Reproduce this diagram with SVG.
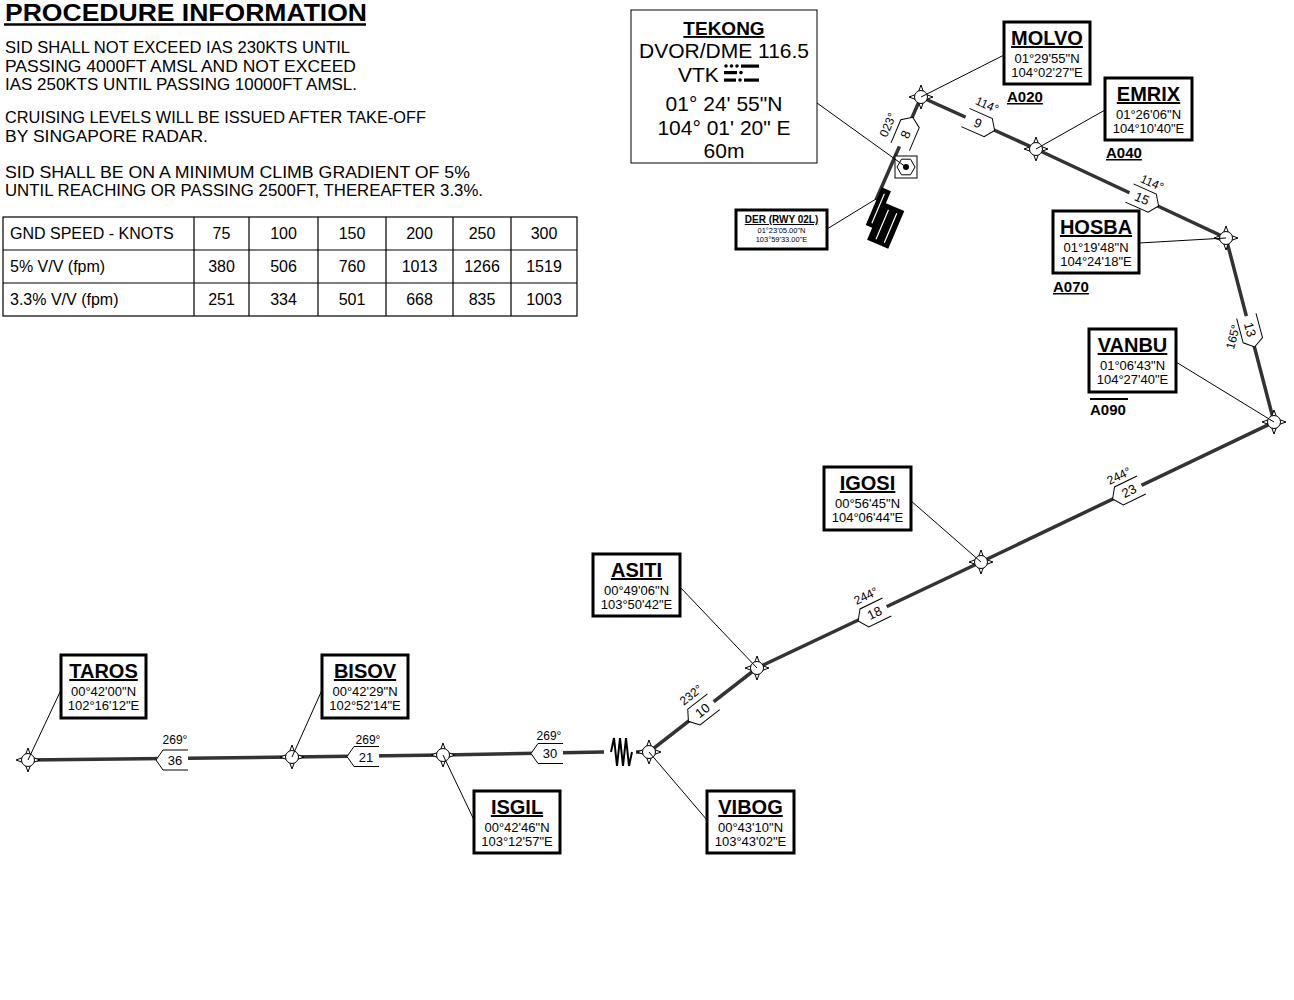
<svg xmlns="http://www.w3.org/2000/svg" xmlns:xlink="http://www.w3.org/1999/xlink" width="1294" height="1000" viewBox="0 0 1294 1000">
<style>
text{font-family:"Liberation Sans",Arial,sans-serif;fill:#000}
.rt{fill:none;stroke:#333;stroke-width:3.5}
.ld{fill:none;stroke:#000;stroke-width:1}
.bx{fill:#fff;stroke:#000;stroke-width:3}
.ttl{font-size:20px;font-weight:bold;text-anchor:middle;text-decoration:underline}
.crd{font-size:13px;text-anchor:middle}
.alt{font-size:15px;font-weight:bold;text-decoration:underline}
.brg{font-size:12px;text-anchor:middle}
.num{font-size:13px;text-anchor:middle}
.body{font-size:16.5px}
.tb{font-size:16px}
.tc{font-size:16px;text-anchor:middle}
.tk{font-size:21px;text-anchor:middle}
</style>
<defs>
<path id="sh" d="M-16,-10 H9 L16,0 L9,10 H-16" fill="#fff" stroke="#000" stroke-width="1"/>
<g id="wp"><path d="M0,-12 L3.2,-3.2 L12,0 L3.2,3.2 L0,12 L-3.2,3.2 L-12,0 L-3.2,-3.2Z" fill="#fff" stroke="#000" stroke-width="1"/><circle r="6.5" fill="#fff" stroke="#000" stroke-width="1"/></g>
</defs>
<rect width="1294" height="1000" fill="#fff"/>

<g id="procedure-info">
<text x="5" y="20.5" font-size="24" font-weight="bold" textLength="362" lengthAdjust="spacingAndGlyphs">PROCEDURE INFORMATION</text>
<line x1="4" y1="24.5" x2="366" y2="24.5" stroke="#000" stroke-width="2.5"/>
<text class="body" x="5" y="53" textLength="345" lengthAdjust="spacingAndGlyphs">SID SHALL NOT EXCEED IAS 230KTS UNTIL</text>
<text class="body" x="5" y="71.5" textLength="351" lengthAdjust="spacingAndGlyphs">PASSING 4000FT AMSL AND NOT EXCEED</text>
<text class="body" x="5" y="90" textLength="352" lengthAdjust="spacingAndGlyphs">IAS 250KTS UNTIL PASSING 10000FT AMSL.</text>
<text class="body" x="5" y="123" textLength="421" lengthAdjust="spacingAndGlyphs">CRUISING LEVELS WILL BE ISSUED AFTER TAKE-OFF</text>
<text class="body" x="5" y="142" textLength="203" lengthAdjust="spacingAndGlyphs">BY SINGAPORE RADAR.</text>
<text class="body" x="5" y="177.5" textLength="465" lengthAdjust="spacingAndGlyphs">SID SHALL BE ON A MINIMUM CLIMB GRADIENT OF 5%</text>
<text class="body" x="5" y="196" textLength="478" lengthAdjust="spacingAndGlyphs">UNTIL REACHING OR PASSING 2500FT, THEREAFTER 3.3%.</text>
</g>

<g id="table" stroke="#000" stroke-width="1.2" fill="none">
<rect x="3" y="217" width="574" height="99"/>
<path d="M3,250H577M3,283H577M194,217V316M249,217V316M318,217V316M386,217V316M453,217V316M511,217V316"/>
</g>
<g id="table-text">
<text class="tb" x="10" y="239">GND SPEED - KNOTS</text>
<text class="tc" x="221.5" y="239">75</text><text class="tc" x="283.5" y="239">100</text><text class="tc" x="352" y="239">150</text><text class="tc" x="419.5" y="239">200</text><text class="tc" x="482" y="239">250</text><text class="tc" x="544" y="239">300</text>
<text class="tb" x="10" y="272">5% V/V (fpm)</text>
<text class="tc" x="221.5" y="272">380</text><text class="tc" x="283.5" y="272">506</text><text class="tc" x="352" y="272">760</text><text class="tc" x="419.5" y="272">1013</text><text class="tc" x="482" y="272">1266</text><text class="tc" x="544" y="272">1519</text>
<text class="tb" x="10" y="305">3.3% V/V (fpm)</text>
<text class="tc" x="221.5" y="305">251</text><text class="tc" x="283.5" y="305">334</text><text class="tc" x="352" y="305">501</text><text class="tc" x="419.5" y="305">668</text><text class="tc" x="482" y="305">835</text><text class="tc" x="544" y="305">1003</text>
</g>

<g id="connectors">
<path class="rt" d="M876,200 L921,97 L1036,149 L1226,238 L1274,422 L981,562 L757,668 L649,752 L636,752"/>
<path class="rt" d="M604,752 L443,755 L292,757 L28,760"/>
<polyline points="632,752 629,766 626,738 623,766 620,738 617,766 614,738 611,752" fill="none" stroke="#000" stroke-width="2"/>
<use xlink:href="#sh" transform="translate(906.5,132) rotate(-67)"/>
<use xlink:href="#sh" transform="translate(980,124) rotate(24)"/>
<use xlink:href="#sh" transform="translate(1144,199.5) rotate(24)"/>
<use xlink:href="#sh" transform="translate(1250.5,331.5) rotate(75)"/>
<use xlink:href="#sh" transform="translate(1127,492) rotate(154)"/>
<use xlink:href="#sh" transform="translate(872.5,614) rotate(154)"/>
<use xlink:href="#sh" transform="translate(701,711.5) rotate(142)"/>
<use xlink:href="#sh" transform="translate(547,753.5) rotate(180)"/>
<use xlink:href="#sh" transform="translate(363,756.5) rotate(180)"/>
<use xlink:href="#sh" transform="translate(172,760) rotate(180)"/>
<text class="num" transform="translate(905.5,134.5) rotate(-67)" y="4.5">8</text>
<text class="num" transform="translate(978,123) rotate(24)" y="4.5">9</text>
<text class="num" transform="translate(1142,198.5) rotate(24)" y="4.5">15</text>
<text class="num" transform="translate(1250,329.5) rotate(75)" y="4.5">13</text>
<text class="num" transform="translate(1129,491) rotate(-26)" y="4.5">23</text>
<text class="num" transform="translate(874.5,613) rotate(-26)" y="4.5">18</text>
<text class="num" transform="translate(702.5,710.5) rotate(-38)" y="4.5">10</text>
<text class="num" x="550" y="758">30</text>
<text class="num" x="366" y="761.5">21</text>
<text class="num" x="175" y="765">36</text>
<text class="brg" transform="translate(888,125) rotate(-67)" y="4">023°</text>
<text class="brg" transform="translate(987,105) rotate(24)" y="4">114°</text>
<text class="brg" transform="translate(1152,183) rotate(24)" y="4">114°</text>
<text class="brg" transform="translate(1233,337) rotate(-75)" y="4">165°</text>
<text class="brg" transform="translate(1119,476) rotate(-26)" y="4">244°</text>
<text class="brg" transform="translate(866,596) rotate(-26)" y="4">244°</text>
<text class="brg" transform="translate(691,695) rotate(-38)" y="4">232°</text>
<text class="brg" x="549" y="740">269°</text>
<text class="brg" x="368" y="744">269°</text>
<text class="brg" x="175" y="744">269°</text>
</g>

<g id="runway">
<g transform="translate(885,218) rotate(23)">
<path d="M-15,-27 H-5 V-14 H15 V27 H-8 V14 H-15 Z" fill="#000"/>
<path d="M-10,-22 V10 M0,-9 V23 M9,-9 V23" stroke="#fff" stroke-width="1.2"/>
</g>
</g>

<g id="tekong-vor">
<rect x="895" y="156" width="22" height="22" fill="#fff" stroke="#000" stroke-width="1"/>
<polygon points="897,167 901.5,159.2 910.5,159.2 915,167 910.5,174.8 901.5,174.8" fill="none" stroke="#000" stroke-width="1"/>
<circle cx="906" cy="167" r="3" fill="#000"/>
</g>

<g id="fixes">
<use xlink:href="#wp" x="921" y="97"/>
<use xlink:href="#wp" x="1036" y="149"/>
<use xlink:href="#wp" x="1226" y="238"/>
<use xlink:href="#wp" x="1274" y="422"/>
<use xlink:href="#wp" x="981" y="562"/>
<use xlink:href="#wp" x="757" y="668"/>
<use xlink:href="#wp" x="649" y="752"/>
<use xlink:href="#wp" x="443" y="755"/>
<use xlink:href="#wp" x="292" y="757"/>
<use xlink:href="#wp" x="28" y="760"/>
</g>

<g id="leaders">
<path class="ld" d="M1004,55 L921,97 M1105,110 L1036,149 M1139,243 L1226,238 M1176,362 L1274,422 M910,500 L981,562 M680,587 L757,668 M61,690 L28,760 M322,690 L292,757 M474,820 L443,755 M707,820 L649,752 M817,103 L906,167 M827,229 L876,199"/>
</g>

<g id="TEKONG">
<rect x="631" y="10" width="186" height="153" fill="#fff" stroke="#000" stroke-width="1"/>
<text x="724" y="35" font-size="19" font-weight="bold" text-anchor="middle" text-decoration="underline">TEKONG</text>
<text class="tk" x="724" y="58">DVOR/DME 116.5</text>
<text x="678" y="82" font-size="21">VTK</text>
<g fill="#000">
<circle cx="726" cy="66" r="1.8"/><circle cx="731.5" cy="66" r="1.8"/><circle cx="737" cy="66" r="1.8"/><rect x="741" y="64.5" width="18" height="3.2"/>
<rect x="724" y="71" width="13" height="3.2"/><circle cx="741" cy="72.6" r="1.8"/>
<rect x="724" y="78.5" width="12" height="3.2"/><circle cx="740" cy="80" r="1.8"/><rect x="744" y="78.5" width="15" height="3.2"/>
</g>
<text class="tk" x="724" y="111">01° 24' 55"N</text>
<text class="tk" x="724" y="135">104° 01' 20" E</text>
<text class="tk" x="724" y="158">60m</text>
</g>

<g id="DER">
<rect x="736" y="210" width="91" height="39" class="bx"/>
<text x="781.5" y="223" font-size="10" font-weight="bold" text-anchor="middle" text-decoration="underline">DER (RWY 02L)</text>
<text x="781.5" y="233" font-size="7.5" text-anchor="middle">01°23'05.00"N</text>
<text x="781.5" y="242" font-size="7.5" text-anchor="middle">103°59'33.00"E</text>
</g>

<g id="MOLVO">
<rect class="bx" x="1004" y="22" width="86" height="62"/>
<text class="ttl" x="1047" y="45">MOLVO</text>
<text class="crd" x="1047" y="63">01°29'55"N</text>
<text class="crd" x="1047" y="77">104°02'27"E</text>
<text class="alt" x="1007" y="102">A020</text>
</g>
<g id="EMRIX">
<rect class="bx" x="1105" y="78" width="87" height="62"/>
<text class="ttl" x="1148.5" y="101">EMRIX</text>
<text class="crd" x="1148.5" y="119">01°26'06"N</text>
<text class="crd" x="1148.5" y="133">104°10'40"E</text>
<text class="alt" x="1106" y="158">A040</text>
</g>
<g id="HOSBA">
<rect class="bx" x="1053" y="211" width="86" height="62"/>
<text class="ttl" x="1096" y="234">HOSBA</text>
<text class="crd" x="1096" y="252">01°19'48"N</text>
<text class="crd" x="1096" y="266">104°24'18"E</text>
<text class="alt" x="1053" y="292">A070</text>
</g>
<g id="VANBU">
<rect class="bx" x="1089" y="329" width="87" height="63"/>
<text class="ttl" x="1132.5" y="352">VANBU</text>
<text class="crd" x="1132.5" y="370">01°06'43"N</text>
<text class="crd" x="1132.5" y="384">104°27'40"E</text>
<line x1="1090" y1="399" x2="1128" y2="399" stroke="#000" stroke-width="2"/>
<text x="1090" y="415" font-size="15" font-weight="bold">A090</text>
</g>
<g id="IGOSI">
<rect class="bx" x="824" y="467" width="87" height="63"/>
<text class="ttl" x="867.5" y="490">IGOSI</text>
<text class="crd" x="867.5" y="508">00°56'45"N</text>
<text class="crd" x="867.5" y="522">104°06'44"E</text>
</g>
<g id="ASITI">
<rect class="bx" x="593" y="554" width="87" height="62"/>
<text class="ttl" x="636.5" y="577">ASITI</text>
<text class="crd" x="636.5" y="595">00°49'06"N</text>
<text class="crd" x="636.5" y="609">103°50'42"E</text>
</g>
<g id="TAROS">
<rect class="bx" x="61" y="655" width="85" height="63"/>
<text class="ttl" x="103.5" y="678">TAROS</text>
<text class="crd" x="103.5" y="696">00°42'00"N</text>
<text class="crd" x="103.5" y="710">102°16'12"E</text>
</g>
<g id="BISOV">
<rect class="bx" x="322" y="655" width="86" height="63"/>
<text class="ttl" x="365" y="678">BISOV</text>
<text class="crd" x="365" y="696">00°42'29"N</text>
<text class="crd" x="365" y="710">102°52'14"E</text>
</g>
<g id="ISGIL">
<rect class="bx" x="474" y="791" width="86" height="62"/>
<text class="ttl" x="517" y="814">ISGIL</text>
<text class="crd" x="517" y="832">00°42'46"N</text>
<text class="crd" x="517" y="846">103°12'57"E</text>
</g>
<g id="VIBOG">
<rect class="bx" x="707" y="791" width="87" height="62"/>
<text class="ttl" x="750.5" y="814">VIBOG</text>
<text class="crd" x="750.5" y="832">00°43'10"N</text>
<text class="crd" x="750.5" y="846">103°43'02"E</text>
</g>
</svg>
